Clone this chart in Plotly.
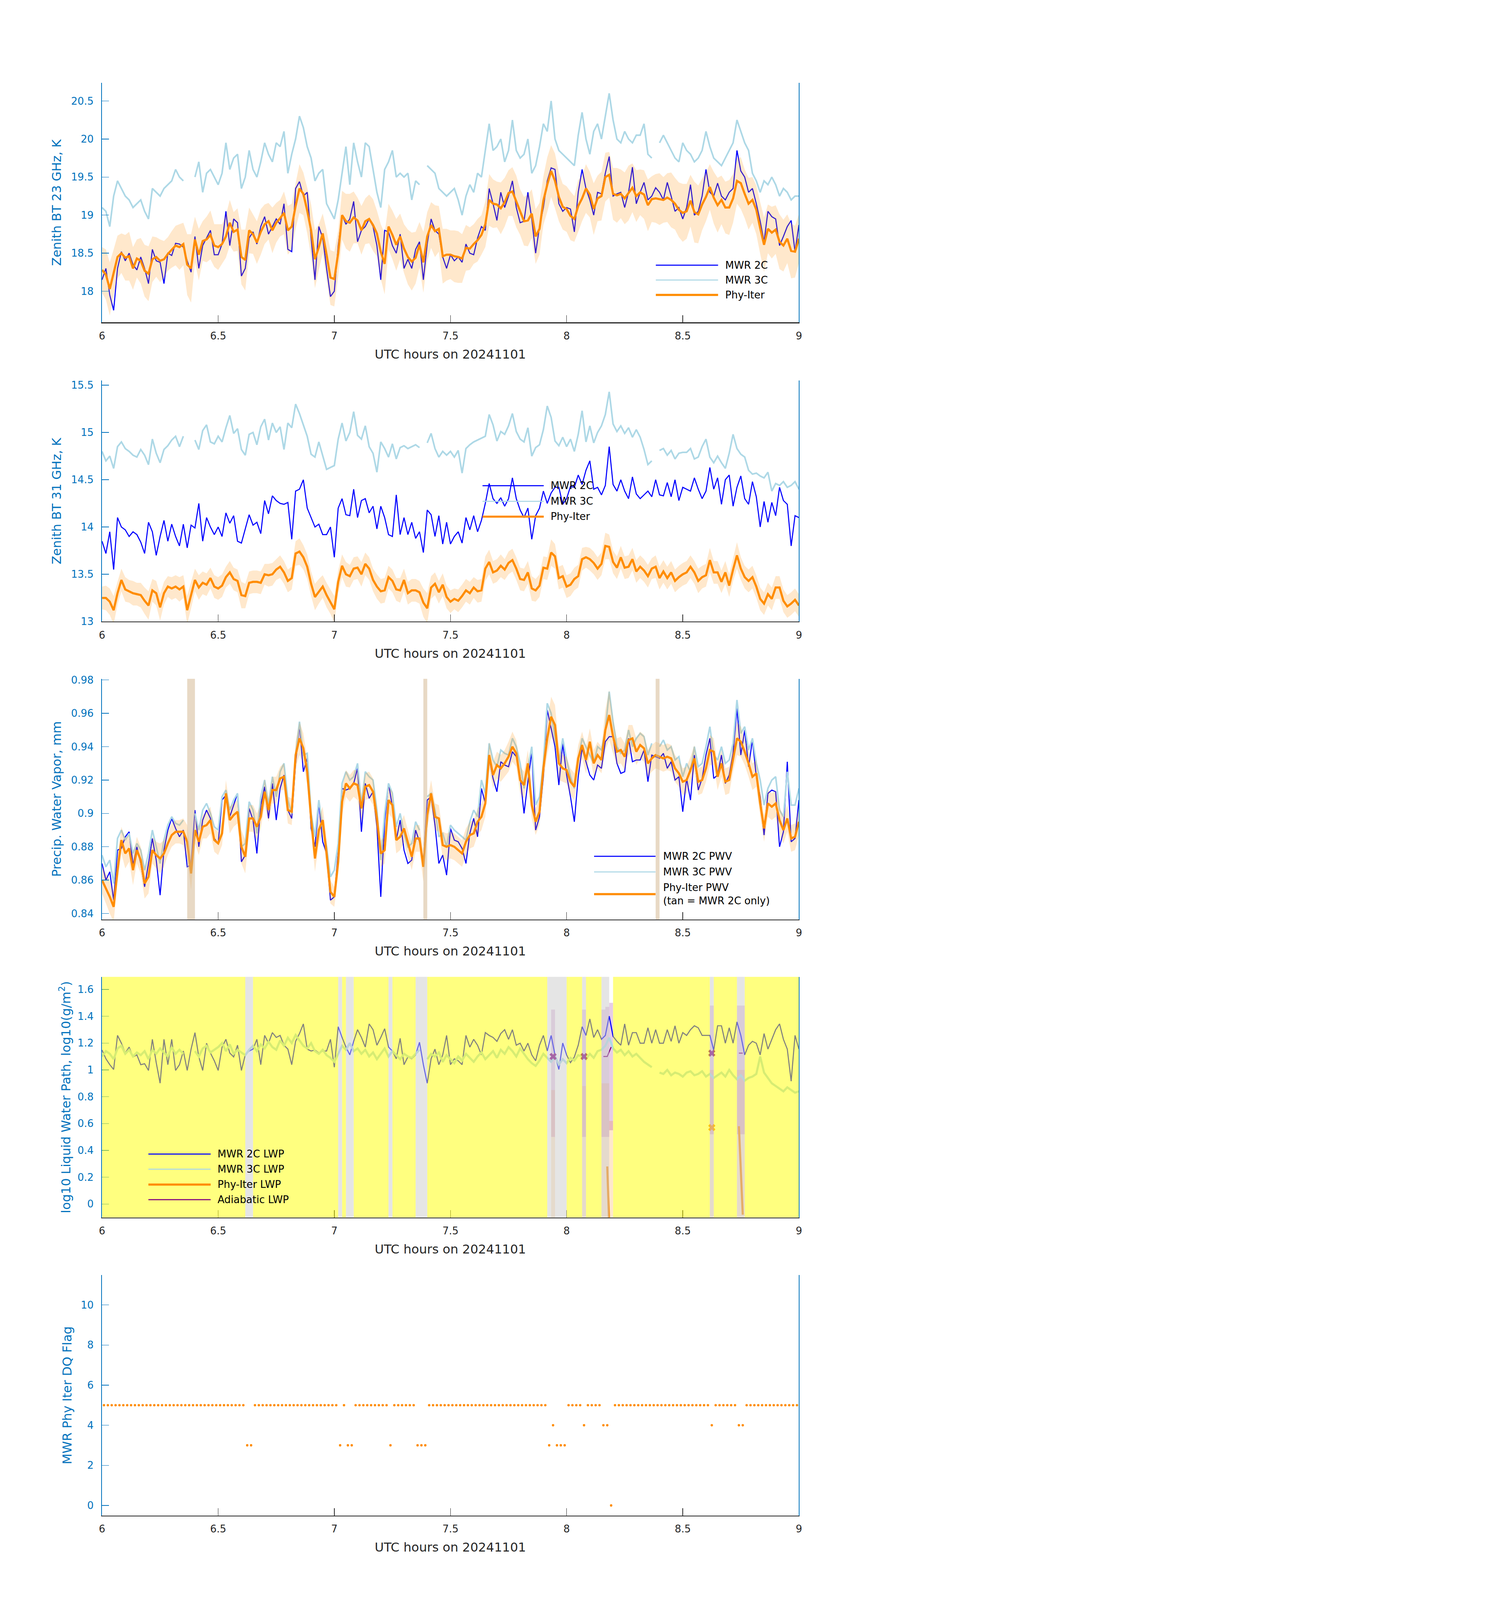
import numpy as np
import plotly.graph_objects as go

# one sample per minute, 06:00 - 09:00 UTC on 2024-11-01
t_start = 6.0
dt = 1 / 60
hours = t_start + np.arange(181) * dt
flag_hours = t_start + (np.arange(180) + 0.5) * dt   # DQ flag stamps sit mid-minute

# ---------------- 23 GHz brightness temperature (K)
tb23_2c = [18.15, 18.30, 17.95, 17.75, 18.30, 18.52, 18.40, 18.50, 18.35, 18.28,
           18.45, 18.30, 18.10, 18.55, 18.40, 18.38, 18.10, 18.50, 18.47, 18.63,
           18.62, 18.58, 18.40, 18.25, 18.72, 18.30, 18.60, 18.70, 18.80, 18.48,
           18.48, 18.62, 19.05, 18.60, 18.95, 18.90, 18.20, 18.30, 18.70, 18.78,
           18.62, 18.85, 18.98, 18.75, 18.85, 18.95, 18.88, 19.15, 18.55, 18.52,
           19.35, 19.44, 19.25, 19.30, 18.70, 18.15, 18.85, 18.70, 18.30, 17.93,
           18.00, 18.60, 19.00, 18.88, 18.95, 19.18, 18.65, 18.80, 18.85, 18.95,
           18.85, 18.60, 18.15, 18.80, 18.78, 18.60, 18.50, 18.75, 18.30, 18.42,
           18.30, 18.55, 18.65, 18.15, 18.62, 18.95, 18.80, 18.75, 18.45, 18.30,
           18.48, 18.40, 18.45, 18.38, 18.62, 18.50, 18.48, 18.70, 18.85, 18.80,
           19.35, 19.15, 18.93, 19.30, 19.10, 19.25, 19.45, 19.10, 18.90, 18.92,
           19.30, 18.95, 18.50, 18.85, 19.10, 19.45, 19.62, 19.60, 19.15, 19.05,
           19.10, 19.08, 18.78, 19.30, 19.60, 19.35, 19.20, 19.00, 19.30, 19.28,
           19.55, 19.77, 19.25, 19.28, 19.30, 19.10, 19.30, 19.63, 19.15, 19.30,
           19.43, 19.20, 19.25, 19.36, 19.30, 19.20, 19.43, 19.25, 19.05, 19.10,
           18.95, 19.10, 19.40, 19.00, 19.05, 19.25, 19.60, 19.30, 19.25, 19.42,
           19.25, 19.20, 19.30, 19.35, 19.85, 19.58, 19.50, 19.30, 19.35, 19.15,
           18.92, 18.65, 19.05, 18.98, 18.95, 18.60, 18.72, 18.85, 18.93, 18.52,
           18.87]
tb23_3c = [19.10, 19.05, 18.85, 19.25, 19.45, 19.35, 19.25, 19.20, 19.10, 19.15,
           19.20, 19.05, 18.95, 19.35, 19.30, 19.25, 19.35, 19.40, 19.45, 19.60,
           19.50, 19.45, None, None, 19.50, 19.70, 19.30, 19.55, 19.60, 19.50,
           19.40, 19.55, 19.95, 19.60, 19.75, 19.80, 19.35, 19.50, 19.85, 19.60,
           19.50, 19.70, 19.95, 19.80, 19.70, 19.95, 19.90, 20.10, 19.55, 19.80,
           20.00, 20.30, 20.15, 19.90, 19.75, 19.45, 19.55, 19.60, 19.15, 19.05,
           18.95, 19.20, 19.55, 19.90, 19.40, 19.95, 19.70, 19.50, 19.95, 19.90,
           19.60, 19.30, 19.10, 19.60, 19.70, 19.85, 19.50, 19.55, 19.50, 19.55,
           19.20, 19.45, 19.40, None, 19.65, 19.60, 19.55, 19.35, 19.30, 19.25,
           19.30, 19.35, 19.20, 19.00, 19.25, 19.40, 19.30, 19.55, 19.50, 19.85,
           20.20, 19.85, 19.90, 20.00, 19.70, 19.85, 20.25, 19.85, 19.75, 19.80,
           20.00, 19.55, 19.65, 19.90, 20.20, 20.10, 20.50, 20.00, 19.85, 19.80,
           19.75, 19.70, 19.65, 20.05, 20.35, 20.00, 19.80, 20.10, 20.20, 20.00,
           20.30, 20.60, 20.25, 20.00, 19.95, 20.10, 20.00, 19.95, 20.05, 20.05,
           20.20, 19.80, 19.75, None, 19.95, 20.05, 19.95, 19.85, 19.75, 19.70,
           19.95, 19.85, 19.80, 19.70, 19.75, 19.85, 20.10, 19.90, 19.75, 19.70,
           19.65, 19.75, 19.85, 19.95, 20.25, 20.10, 19.95, 19.85, 19.55, 19.45,
           19.30, 19.45, 19.40, 19.50, 19.40, 19.25, 19.35, 19.30, 19.20, 19.25,
           19.25]
tb23_phy = [18.28, 18.22, 18.03, 18.25, 18.45, 18.50, 18.44, 18.46, 18.30, 18.43,
            18.40, 18.27, 18.23, 18.42, 18.45, 18.40, 18.42, 18.49, 18.55, 18.60,
            18.58, 18.62, 18.35, 18.30, 18.68, 18.48, 18.66, 18.68, 18.74, 18.60,
            18.58, 18.62, 18.72, 18.90, 18.78, 18.81, 18.45, 18.41, 18.80, 18.75,
            18.64, 18.78, 18.88, 18.92, 18.80, 18.90, 18.96, 19.03, 18.80, 18.85,
            19.12, 19.35, 19.28, 19.06, 18.80, 18.42, 18.58, 18.76, 18.48, 18.18,
            18.16, 18.50, 19.00, 18.92, 18.90, 18.97, 18.93, 18.80, 18.92, 18.95,
            18.87, 18.76, 18.52, 18.36, 18.85, 18.74, 18.61, 18.72, 18.56, 18.45,
            18.39, 18.44, 18.61, 18.38, 18.72, 18.87, 18.79, 18.82, 18.46, 18.48,
            18.48, 18.46, 18.45, 18.43, 18.57, 18.56, 18.62, 18.67, 18.74, 18.88,
            19.20, 19.15, 19.14, 19.09, 19.17, 19.29, 19.31, 19.18, 19.04, 18.92,
            18.93, 19.02, 18.72, 18.82, 19.19, 19.40, 19.58, 19.45, 19.24, 19.11,
            19.08, 18.99, 18.95, 19.12, 19.22, 19.35, 19.27, 19.08, 19.22, 19.25,
            19.50, 19.53, 19.28, 19.26, 19.28, 19.22, 19.29, 19.36, 19.25, 19.30,
            19.27, 19.13, 19.21, 19.22, 19.21, 19.20, 19.23, 19.20, 19.15, 19.07,
            19.03, 19.05, 19.19, 19.04, 19.01, 19.14, 19.24, 19.37, 19.23, 19.13,
            19.20, 19.10, 19.10, 19.22, 19.45, 19.42, 19.28, 19.15, 19.20, 19.07,
            18.83, 18.61, 18.82, 18.77, 18.81, 18.65, 18.60, 18.69, 18.53, 18.52,
            18.69]
tb23_sig = [0.30, 0.33, 0.35, 0.30, 0.28, 0.26, 0.30, 0.32, 0.28, 0.25,
            0.30, 0.34, 0.36, 0.30, 0.26, 0.28, 0.24, 0.22, 0.24, 0.26,
            0.30, 0.28, 0.40, 0.45, 0.30, 0.34, 0.26, 0.30, 0.32, 0.28,
            0.30, 0.26, 0.28, 0.30, 0.26, 0.28, 0.36, 0.40, 0.30, 0.26,
            0.28, 0.30, 0.26, 0.24, 0.30, 0.26, 0.24, 0.28, 0.32, 0.30,
            0.30, 0.32, 0.28, 0.30, 0.34, 0.38, 0.30, 0.26, 0.32, 0.36,
            0.36, 0.30, 0.32, 0.36, 0.38, 0.34, 0.30, 0.32, 0.30, 0.32,
            0.34, 0.30, 0.36, 0.40, 0.30, 0.32, 0.34, 0.30, 0.32, 0.36,
            0.38, 0.34, 0.30, 0.40, 0.32, 0.30, 0.34, 0.30, 0.36, 0.34,
            0.32, 0.34, 0.34, 0.32, 0.30, 0.28, 0.26, 0.28, 0.26, 0.30,
            0.34, 0.32, 0.30, 0.34, 0.32, 0.30, 0.32, 0.34, 0.30, 0.32,
            0.34, 0.32, 0.36, 0.34, 0.32, 0.36, 0.34, 0.36, 0.32, 0.30,
            0.30, 0.32, 0.30, 0.34, 0.30, 0.32, 0.30, 0.34, 0.30, 0.32,
            0.32, 0.30, 0.34, 0.36, 0.32, 0.34, 0.36, 0.32, 0.34, 0.30,
            0.32, 0.34, 0.30, 0.32, 0.34, 0.30, 0.32, 0.36, 0.34, 0.36,
            0.38, 0.36, 0.34, 0.40, 0.38, 0.34, 0.32, 0.30, 0.34, 0.36,
            0.32, 0.34, 0.36, 0.32, 0.30, 0.34, 0.32, 0.34, 0.30, 0.32,
            0.34, 0.36, 0.32, 0.34, 0.32, 0.36, 0.34, 0.32, 0.36, 0.34,
            0.32]

# ---------------- 31 GHz brightness temperature (K)
tb31_2c = [13.85, 13.72, 13.95, 13.55, 14.10, 14.00, 13.97, 13.90, 13.95, 13.92,
           13.84, 13.72, 14.05, 13.95, 13.70, 13.90, 14.07, 13.85, 14.03, 13.90,
           13.80, 14.03, 13.78, 14.02, 13.99, 14.25, 13.85, 14.10, 14.00, 13.92,
           14.00, 13.90, 14.15, 14.04, 14.12, 13.85, 13.83, 13.98, 14.13, 14.02,
           14.05, 13.93, 14.28, 14.14, 14.33, 14.28, 14.25, 14.24, 14.26, 13.87,
           14.38, 14.40, 14.50, 14.20, 14.10, 14.00, 14.03, 13.92, 13.92, 14.00,
           13.68, 14.20, 14.30, 14.13, 14.12, 14.40, 14.10, 14.28, 14.30, 14.15,
           14.22, 13.98, 14.22, 14.10, 13.92, 13.90, 14.34, 13.92, 14.10, 13.92,
           14.05, 13.88, 13.95, 13.73, 14.18, 14.13, 13.90, 14.12, 13.82, 14.05,
           13.82, 13.90, 13.95, 13.83, 14.10, 13.97, 14.12, 13.95, 14.07, 14.25,
           14.46, 14.30, 14.25, 14.31, 14.22, 14.30, 14.52, 14.30, 14.18, 14.10,
           14.20, 13.87, 14.12, 14.20, 14.38, 14.25, 14.36, 14.42, 14.42, 14.24,
           14.30, 14.43, 14.42, 14.55, 14.45, 14.60, 14.70, 14.40, 14.42, 14.34,
           14.44, 14.85, 14.45, 14.38, 14.50, 14.38, 14.30, 14.53, 14.35, 14.30,
           14.34, 14.38, 14.32, 14.50, 14.34, 14.33, 14.47, 14.32, 14.50, 14.28,
           14.42, 14.40, 14.38, 14.52, 14.40, 14.30, 14.38, 14.63, 14.40, 14.52,
           14.24, 14.50, 14.55, 14.22, 14.42, 14.54, 14.30, 14.24, 14.48, 14.32,
           14.00, 14.27, 14.05, 14.26, 14.12, 14.42, 14.28, 14.24, 13.80, 14.12,
           14.10]
tb31_3c = [14.80, 14.70, 14.75, 14.62, 14.85, 14.90, 14.83, 14.80, 14.76, 14.74,
           14.82, 14.76, 14.66, 14.93, 14.78, 14.68, 14.82, 14.86, 14.92, 14.96,
           14.85, 14.96, None, None, 14.92, 14.82, 15.02, 15.08, 14.90, 14.88,
           14.96, 14.90, 15.05, 15.18, 14.99, 15.04, 14.82, 14.76, 14.98, 15.00,
           14.87, 15.06, 15.14, 14.92, 15.10, 15.00, 15.06, 14.82, 15.10, 15.05,
           15.30, 15.20, 15.08, 14.96, 14.77, 14.74, 14.90, 14.75, 14.61, 14.63,
           14.65, 14.93, 15.10, 14.91, 15.00, 15.22, 14.97, 14.93, 15.07, 14.85,
           14.78, 14.58, 14.90, 14.83, 14.74, 14.88, 14.72, 14.84, 14.86, 14.83,
           14.85, 14.87, 14.84, None, 14.89, 14.99, 14.83, 14.74, 14.80, 14.76,
           14.80, 14.74, 14.81, 14.57, 14.83, 14.87, 14.90, 14.92, 14.94, 14.96,
           15.19, 15.08, 14.91, 15.01, 14.98, 15.07, 15.20, 15.01, 14.93, 14.90,
           15.05, 14.75, 14.84, 14.87, 15.03, 15.28, 15.16, 14.91, 14.86, 14.95,
           14.85, 14.93, 14.80, 14.98, 15.23, 14.90, 15.07, 14.89, 15.00, 15.07,
           15.19, 15.43, 15.09, 15.01, 15.07, 14.99, 15.05, 14.95, 15.03, 14.95,
           14.82, 14.66, 14.70, None, 14.81, 14.83, 14.76, 14.81, 14.72, 14.78,
           14.79, 14.79, 14.83, 14.72, 14.74, 14.85, 14.93, 14.74, 14.68, 14.75,
           14.68, 14.62, 14.78, 14.98, 14.83, 14.77, 14.74, 14.60, 14.56, 14.57,
           14.54, 14.52, 14.58, 14.38, 14.46, 14.44, 14.48, 14.42, 14.44, 14.48,
           14.40]
tb31_phy = [13.25, 13.25, 13.21, 13.12, 13.30, 13.44, 13.34, 13.32, 13.30, 13.29,
            13.28, 13.22, 13.17, 13.33, 13.30, 13.15, 13.30, 13.37, 13.35, 13.37,
            13.34, 13.37, 13.12, 13.28, 13.44, 13.36, 13.41, 13.39, 13.46, 13.37,
            13.35, 13.38, 13.47, 13.52, 13.45, 13.43, 13.28, 13.27, 13.41, 13.42,
            13.42, 13.41, 13.50, 13.49, 13.50, 13.55, 13.58, 13.52, 13.43, 13.46,
            13.72, 13.74, 13.68, 13.58, 13.40, 13.26, 13.32, 13.37, 13.28, 13.21,
            13.13, 13.42, 13.59, 13.50, 13.48, 13.56, 13.57, 13.50, 13.61, 13.56,
            13.44, 13.37, 13.32, 13.33, 13.47, 13.43, 13.34, 13.33, 13.44, 13.30,
            13.33, 13.33, 13.31, 13.20, 13.14, 13.36, 13.40, 13.31, 13.39, 13.26,
            13.21, 13.24, 13.22, 13.27, 13.33, 13.30, 13.36, 13.32, 13.33, 13.56,
            13.63, 13.52, 13.54, 13.59, 13.55, 13.62, 13.65, 13.56, 13.45, 13.44,
            13.52, 13.35, 13.33, 13.38, 13.57, 13.56, 13.73, 13.69, 13.46, 13.48,
            13.37, 13.39, 13.45, 13.48, 13.66, 13.68, 13.66, 13.62, 13.56, 13.61,
            13.80, 13.79, 13.63, 13.57, 13.68, 13.57, 13.58, 13.66, 13.53, 13.58,
            13.54, 13.48, 13.56, 13.58, 13.46, 13.53, 13.46, 13.52, 13.43, 13.47,
            13.50, 13.52, 13.58, 13.52, 13.43, 13.47, 13.49, 13.65, 13.52, 13.52,
            13.42, 13.52, 13.38, 13.55, 13.70, 13.56, 13.47, 13.43, 13.47, 13.37,
            13.24, 13.19, 13.29, 13.24, 13.36, 13.36, 13.22, 13.16, 13.19, 13.23,
            13.17]
tb31_sig = [0.12, 0.13, 0.14, 0.15, 0.12, 0.12, 0.13, 0.12, 0.13, 0.12,
            0.13, 0.14, 0.15, 0.12, 0.13, 0.14, 0.12, 0.11, 0.12, 0.12,
            0.13, 0.12, 0.15, 0.14, 0.12, 0.13, 0.12, 0.12, 0.11, 0.12,
            0.12, 0.12, 0.11, 0.12, 0.12, 0.12, 0.14, 0.13, 0.12, 0.12,
            0.12, 0.12, 0.11, 0.12, 0.12, 0.11, 0.12, 0.12, 0.12, 0.12,
            0.13, 0.14, 0.13, 0.13, 0.13, 0.14, 0.13, 0.12, 0.13, 0.13,
            0.14, 0.12, 0.12, 0.13, 0.12, 0.12, 0.12, 0.13, 0.12, 0.12,
            0.12, 0.13, 0.13, 0.13, 0.12, 0.12, 0.12, 0.13, 0.12, 0.12,
            0.12, 0.12, 0.12, 0.15, 0.16, 0.12, 0.12, 0.12, 0.12, 0.12,
            0.12, 0.11, 0.12, 0.12, 0.12, 0.12, 0.11, 0.12, 0.12, 0.13,
            0.13, 0.12, 0.12, 0.12, 0.11, 0.12, 0.12, 0.12, 0.12, 0.12,
            0.12, 0.13, 0.12, 0.12, 0.12, 0.12, 0.14, 0.13, 0.12, 0.12,
            0.12, 0.12, 0.12, 0.12, 0.12, 0.11, 0.12, 0.12, 0.12, 0.12,
            0.14, 0.13, 0.12, 0.12, 0.12, 0.12, 0.12, 0.12, 0.12, 0.12,
            0.12, 0.12, 0.11, 0.12, 0.12, 0.12, 0.12, 0.12, 0.12, 0.12,
            0.12, 0.12, 0.12, 0.12, 0.13, 0.12, 0.12, 0.13, 0.12, 0.12,
            0.12, 0.12, 0.12, 0.12, 0.14, 0.12, 0.12, 0.12, 0.12, 0.12,
            0.12, 0.12, 0.12, 0.12, 0.12, 0.12, 0.12, 0.12, 0.12, 0.12,
            0.12]

# ---------------- precipitable water vapour (mm)
pwv_2c = [0.870, 0.860, 0.865, 0.848, 0.878, 0.879, 0.886, 0.889, 0.869, 0.880,
          0.870, 0.856, 0.870, 0.885, 0.872, 0.851, 0.878, 0.890, 0.897, 0.891,
          0.886, 0.890, 0.868, 0.869, 0.902, 0.880, 0.896, 0.902, 0.897, 0.885,
          0.882, 0.908, 0.911, 0.898, 0.905, 0.912, 0.871, 0.875, 0.903, 0.896,
          0.876, 0.905, 0.916, 0.897, 0.918, 0.896, 0.915, 0.923, 0.902, 0.897,
          0.930, 0.953, 0.925, 0.933, 0.891, 0.880, 0.906, 0.883, 0.876, 0.848,
          0.850, 0.877, 0.915, 0.914, 0.915, 0.918, 0.927, 0.889, 0.918, 0.909,
          0.913, 0.892, 0.850, 0.895, 0.918, 0.904, 0.884, 0.896, 0.878, 0.870,
          0.872, 0.890, 0.883, 0.871, 0.908, 0.910, 0.893, 0.870, 0.875, 0.863,
          0.891, 0.884, 0.883, 0.879, 0.870, 0.888, 0.897, 0.886, 0.915, 0.906,
          0.933, 0.921, 0.913, 0.931, 0.929, 0.928, 0.937, 0.934, 0.922, 0.900,
          0.919, 0.937, 0.890, 0.898, 0.922, 0.962, 0.951, 0.940, 0.917, 0.942,
          0.923, 0.910, 0.895, 0.922, 0.939, 0.931, 0.923, 0.920, 0.929, 0.927,
          0.943, 0.946, 0.946, 0.930, 0.924, 0.925, 0.945, 0.931, 0.932, 0.932,
          0.938, 0.919, 0.935, 0.934, 0.933, 0.936, 0.927, 0.931, 0.920, 0.922,
          0.901, 0.921, 0.908, 0.935, 0.914, 0.921, 0.935, 0.945, 0.921, 0.923,
          0.935, 0.918, 0.923, 0.936, 0.963, 0.935, 0.950, 0.928, 0.944, 0.922,
          0.910, 0.887, 0.912, 0.914, 0.913, 0.880, 0.889, 0.931, 0.883, 0.885,
          0.908]
pwv_3c = [0.875, 0.868, 0.872, 0.858, 0.885, 0.890, 0.884, 0.888, 0.876, 0.882,
          0.878, 0.866, 0.876, 0.890, 0.880, 0.870, 0.884, 0.893, 0.898, 0.894,
          0.893, 0.896, None, None, 0.900, 0.890, 0.902, 0.906, 0.900, 0.892,
          0.890, 0.910, 0.914, 0.902, 0.908, 0.912, 0.880, 0.882, 0.907, 0.902,
          0.888, 0.910, 0.920, 0.905, 0.922, 0.910, 0.925, 0.930, 0.908, 0.900,
          0.935, 0.955, 0.935, 0.936, 0.900, 0.886, 0.908, 0.892, 0.880, 0.862,
          0.866, 0.882, 0.918, 0.925, 0.920, 0.922, 0.930, 0.905, 0.925, 0.922,
          0.920, 0.902, 0.872, 0.900, 0.918, 0.912, 0.892, 0.900, 0.888, 0.880,
          0.882, 0.895, 0.890, None, 0.910, 0.912, 0.902, 0.886, 0.888, 0.880,
          0.893, 0.890, 0.888, 0.886, 0.884, 0.895, 0.902, 0.898, 0.920, 0.912,
          0.942, 0.932, 0.928, 0.938, 0.936, 0.935, 0.945, 0.940, 0.930, 0.915,
          0.928, 0.940, 0.905, 0.910, 0.930, 0.966, 0.960, 0.945, 0.930, 0.945,
          0.932, 0.922, 0.915, 0.932, 0.945, 0.940, 0.935, 0.930, 0.940, 0.938,
          0.950, 0.973, 0.955, 0.940, 0.936, 0.938, 0.950, 0.940, 0.945, 0.948,
          0.946, 0.935, 0.942, None, 0.940, 0.944, 0.938, 0.940, 0.932, 0.934,
          0.922, 0.930, 0.925, 0.940, 0.928, 0.930, 0.940, 0.952, 0.935, 0.932,
          0.940, 0.930, 0.932, 0.942, 0.968, 0.948, 0.952, 0.938, 0.945, 0.930,
          0.920, 0.905, 0.915, 0.920, 0.922, 0.902, 0.898, 0.925, 0.905, 0.905,
          0.915]
pwv_phy = [0.860, 0.855, 0.850, 0.844, 0.866, 0.884, 0.876, 0.879, 0.866, 0.878,
           0.872, 0.858, 0.862, 0.878, 0.875, 0.873, 0.876, 0.882, 0.887, 0.889,
           0.889, 0.889, 0.883, 0.864, 0.890, 0.883, 0.892, 0.893, 0.896, 0.884,
           0.882, 0.888, 0.912, 0.896, 0.899, 0.901, 0.880, 0.874, 0.897, 0.897,
           0.892, 0.898, 0.913, 0.902, 0.914, 0.914, 0.921, 0.922, 0.902, 0.901,
           0.935, 0.945, 0.939, 0.925, 0.897, 0.873, 0.890, 0.896, 0.876, 0.853,
           0.850, 0.871, 0.907, 0.918, 0.915, 0.918, 0.917, 0.903, 0.916, 0.917,
           0.913, 0.897, 0.876, 0.878, 0.908, 0.905, 0.884, 0.886, 0.891, 0.882,
           0.874, 0.885, 0.885, 0.868, 0.899, 0.912, 0.898, 0.897, 0.881, 0.880,
           0.881, 0.880, 0.878, 0.876, 0.883, 0.887, 0.888, 0.895, 0.898, 0.906,
           0.935, 0.923, 0.929, 0.927, 0.930, 0.934, 0.940, 0.936, 0.920, 0.917,
           0.930, 0.905, 0.895, 0.901, 0.927, 0.945, 0.958, 0.953, 0.930, 0.927,
           0.926, 0.919, 0.916, 0.933, 0.941, 0.932, 0.943, 0.930, 0.935, 0.932,
           0.950, 0.959, 0.946, 0.937, 0.938, 0.934, 0.944, 0.945, 0.937, 0.941,
           0.939, 0.930, 0.933, 0.935, 0.934, 0.933, 0.934, 0.933, 0.927, 0.924,
           0.919, 0.920, 0.926, 0.933, 0.919, 0.920, 0.927, 0.938, 0.937, 0.922,
           0.930, 0.919, 0.920, 0.933, 0.945, 0.943, 0.937, 0.930, 0.922, 0.924,
           0.906, 0.891, 0.906, 0.904, 0.906, 0.896, 0.890, 0.897, 0.885, 0.886,
           0.895]
pwv_sig = [0.008, 0.009, 0.010, 0.009, 0.008, 0.008, 0.009, 0.008, 0.009, 0.008,
           0.008, 0.009, 0.010, 0.008, 0.008, 0.009, 0.008, 0.007, 0.007, 0.007,
           0.007, 0.008, 0.010, 0.010, 0.008, 0.008, 0.007, 0.008, 0.008, 0.007,
           0.007, 0.007, 0.008, 0.008, 0.007, 0.007, 0.010, 0.010, 0.008, 0.008,
           0.008, 0.007, 0.008, 0.007, 0.008, 0.008, 0.007, 0.008, 0.008, 0.008,
           0.008, 0.010, 0.009, 0.008, 0.008, 0.008, 0.008, 0.008, 0.009, 0.007,
           0.006, 0.008, 0.008, 0.008, 0.008, 0.008, 0.009, 0.008, 0.008, 0.008,
           0.008, 0.008, 0.008, 0.008, 0.008, 0.008, 0.008, 0.008, 0.008, 0.008,
           0.008, 0.008, 0.008, 0.009, 0.008, 0.008, 0.008, 0.008, 0.008, 0.008,
           0.008, 0.008, 0.008, 0.008, 0.008, 0.008, 0.008, 0.008, 0.008, 0.008,
           0.008, 0.008, 0.008, 0.008, 0.008, 0.009, 0.009, 0.008, 0.008, 0.008,
           0.008, 0.008, 0.008, 0.008, 0.008, 0.010, 0.012, 0.012, 0.010, 0.008,
           0.008, 0.008, 0.008, 0.008, 0.008, 0.008, 0.008, 0.008, 0.008, 0.008,
           0.012, 0.015, 0.010, 0.008, 0.008, 0.008, 0.009, 0.008, 0.008, 0.008,
           0.008, 0.008, 0.008, 0.008, 0.008, 0.008, 0.008, 0.008, 0.008, 0.008,
           0.008, 0.008, 0.008, 0.008, 0.008, 0.008, 0.008, 0.009, 0.008, 0.008,
           0.008, 0.008, 0.008, 0.008, 0.010, 0.009, 0.008, 0.008, 0.008, 0.008,
           0.008, 0.008, 0.008, 0.008, 0.008, 0.008, 0.008, 0.008, 0.008, 0.008,
           0.008]

# ---------------- log10 liquid water path, log10(g/m2)
lwp_2c = [1.148, 1.083, 1.039, 1.003, 1.257, 1.199, 1.126, 1.170, 1.097, 1.112,
          1.039, 1.046, 0.996, 1.228, 1.054, 0.901, 1.228, 1.039, 1.228, 0.996,
          1.039, 1.141, 0.996, 1.155, 1.278, 1.097, 0.996, 1.199, 1.126, 1.068,
          0.996, 1.170, 1.228, 1.126, 1.097, 1.184, 0.996, 1.112, 1.141, 1.155,
          1.228, 1.039, 1.257, 1.200, 1.278, 1.242, 1.257, 1.184, 1.155, 1.039,
          1.213, 1.271, 1.343, 1.155, 1.141, 1.148, 1.126, 1.141, 1.141, 1.228,
          1.020, 1.322, 1.242, 1.170, 1.112, 1.213, 1.300, 1.242, 1.170, 1.343,
          1.300, 1.184, 1.242, 1.307, 1.170, 1.141, 1.083, 1.235, 1.039, 1.097,
          1.083, 1.112, 1.206, 1.039, 0.901, 1.083, 1.155, 1.039, 1.112, 1.257,
          1.039, 1.083, 1.068, 1.039, 1.257, 1.170, 1.228, 1.184, 1.112, 1.278,
          1.257, 1.242, 1.213, 1.271, 1.300, 1.228, 1.300, 1.184, 1.199, 1.141,
          1.199, 1.112, 1.068, 1.184, 1.257, 1.141, 1.257, 1.112, 1.003, 1.200,
          1.112, 1.054, 1.097, 1.184, 1.322, 1.257, 1.380, 1.242, 1.300, 1.228,
          1.257, 1.401, 1.250, 1.213, 1.184, 1.343, 1.184, 1.278, 1.278, 1.199,
          1.199, 1.314, 1.199, 1.300, 1.199, 1.199, 1.300, 1.213, 1.329, 1.199,
          1.278, 1.257, 1.300, 1.329, 1.314, 1.257, 1.257, 1.257, 1.148, 1.329,
          1.329, 1.199, 1.314, 1.199, 1.358, 1.257, 1.112, 1.184, 1.213, 1.199,
          1.112, 1.271, 1.155, 1.228, 1.300, 1.343, 1.228, 1.155, 0.916, 1.257,
          1.155]
lwp_3c = [1.10, 1.14, 1.12, 1.08, 1.16, 1.18, 1.12, 1.15, 1.10, 1.13,
          1.11, 1.14, 1.08, 1.15, 1.12, 1.16, 1.13, 1.10, 1.17, 1.12,
          1.15, 1.12, None, None, 1.14, 1.10, 1.16, 1.18, 1.13, 1.15,
          1.17, 1.20, 1.14, 1.19, 1.12, 1.15, 1.13, 1.11, 1.15, 1.18,
          1.14, 1.19, 1.16, 1.21, 1.17, 1.15, 1.22, 1.18, 1.24, 1.20,
          1.26, 1.22, 1.18, 1.16, 1.20, 1.14, 1.12, 1.15, 1.11, 1.09,
          1.06, 1.12, 1.18, 1.15, 1.20, 1.14, 1.16, 1.12, 1.15, 1.10,
          1.13, 1.08, 1.12, 1.16, 1.10, 1.14, 1.11, 1.08, 1.12, 1.10,
          1.09, 1.12, 1.15, None, 1.08, 1.12, 1.10, 1.13, 1.06, 1.11,
          1.08, 1.05, 1.10, 1.07, 1.12, 1.09, 1.06, 1.10, 1.13, 1.08,
          1.11, 1.14, 1.09, 1.15, 1.12, 1.17, 1.14, 1.10, 1.16, 1.12,
          1.08, 1.05, 1.03, 1.07, 1.12, 1.09, 1.06, 1.10, 1.04, 1.08,
          1.05, 1.09, 1.07, 1.11, 1.10, 1.08, 1.12, 1.09, 1.14, 1.15,
          1.18, 1.24, 1.16, 1.13, 1.15, 1.11, 1.14, 1.10, 1.12, 1.09,
          1.06, 1.04, 1.02, None, 0.98, 0.97, 1.00, 0.96, 0.98, 0.97,
          0.95, 0.98, 0.99, 0.96, 0.97, 0.99, 0.95, 0.97, 0.94, 0.96,
          0.98, 0.95, 1.00, 0.96, 0.93, 0.96, 0.92, 0.94, 0.95, 0.97,
          1.10, 0.98, 0.94, 0.90, 0.88, 0.86, 0.84, 0.87, 0.85, 0.83,
          0.84]

# Phy-Iter and adiabatic LWP exist only at the flagged minutes
lwp_extra_hours = [7.9417, 8.0750, 8.1583, 8.1750, 8.1917, 8.6250, 8.7417, 8.7583]
lwp_phy = [None, None, None, 0.28, -0.60, 0.57, 0.58, -0.08]
lwp_phy_lo = [-0.30, -0.30, -0.30, -0.30, -0.30, -0.30, -0.30, -0.30]
lwp_phy_hi = [0.85, 0.88, 0.90, 0.90, 0.62, 1.00, 1.00, 1.00]
lwp_adi = [1.10, 1.10, 1.10, 1.10, 1.17, 1.125, 1.125, 1.125]
lwp_adi_lo = [0.50, 0.50, 0.50, 0.50, 0.55, 0.52, 0.52, 0.52]
lwp_adi_hi = [1.45, 1.45, 1.45, 1.47, 1.50, 1.48, 1.48, 1.48]

# ---------------- MWR Phy-Iter DQ flag (one per minute, mid-minute stamps)
dq_flag = [5, 5, 5, 5, 5, 5, 5, 5, 5, 5, 5, 5, 5, 5, 5, 5, 5, 5, 5, 5,
           5, 5, 5, 5, 5, 5, 5, 5, 5, 5, 5, 5, 5, 5, 5, 5, 5, 3, 3, 5,
           5, 5, 5, 5, 5, 5, 5, 5, 5, 5, 5, 5, 5, 5, 5, 5, 5, 5, 5, 5,
           5, 3, 5, 3, 3, 5, 5, 5, 5, 5, 5, 5, 5, 5, 3, 5, 5, 5, 5, 5,
           5, 3, 3, 3, 5, 5, 5, 5, 5, 5, 5, 5, 5, 5, 5, 5, 5, 5, 5, 5,
           5, 5, 5, 5, 5, 5, 5, 5, 5, 5, 5, 5, 5, 5, 5, 3, 4, 3, 3, 3,
           5, 5, 5, 5, 4, 5, 5, 5, 5, 4, 4, 0, 5, 5, 5, 5, 5, 5, 5, 5,
           5, 5, 5, 5, 5, 5, 5, 5, 5, 5, 5, 5, 5, 5, 5, 5, 5, 4, 5, 5,
           5, 5, 5, 5, 4, 4, 5, 5, 5, 5, 5, 5, 5, 5, 5, 5, 5, 5, 5, 5]

# ---------------- styling
W, H = 3825, 6000
FONT = "DejaVu Sans"
AXBLUE = "#0072BD"
DARK = "#262626"
C2 = "#0000FF"
C3 = "#ADD8E6"
ORANGE = "#FF8C00"
BAND = "rgba(255,140,0,0.2)"
PURPLE = "#800080"

x_left, x_right = 373, 3003
tops = [295, 1419, 2545, 3670, 4795]
bottoms = [1200, 2329, 3453, 4578, 5703]
yranges = [[17.59, 20.74], [13.0, 15.55], [0.8365, 0.9807], [-0.1, 1.694], [-0.5, 11.5]]
yticks = [(18, 0.5), (13.5, 0.5), (0.84, 0.02), (0, 0.2), (0, 2)]
ylabels = ["Zenith BT 23 GHz, K", "Zenith BT 31 GHz, K", "Precip. Water Vapor, mm",
           "log10 Liquid Water Path, log10(g/m<sup>2</sup>)", "MWR Phy Iter DQ Flag"]
ylabel_x = [202, 202, 202, 233, 242]

fig = go.Figure()


def ax(n):
    return dict(xaxis="x" if n == 1 else f"x{n}", yaxis="y" if n == 1 else f"y{n}")


def line(n, y, color, width, x=hours):
    fig.add_trace(go.Scatter(x=x, y=y, mode="lines", line=dict(color=color, width=width),
                             showlegend=False, hoverinfo="skip", **ax(n)))


def band(n, center, sig):
    c = np.array(center, float)
    s = np.array(sig, float)
    fig.add_trace(go.Scatter(x=hours, y=c + s, mode="lines", line=dict(width=0),
                             showlegend=False, hoverinfo="skip", **ax(n)))
    fig.add_trace(go.Scatter(x=hours, y=c - s, mode="lines", line=dict(width=0),
                             fill="tonexty", fillcolor=BAND,
                             showlegend=False, hoverinfo="skip", **ax(n)))


# panels 1-3: MWR 2C, MWR 3C, Phy-Iter with its uncertainty band
for n, (s2, s3, sp, sg) in enumerate([(tb23_2c, tb23_3c, tb23_phy, tb23_sig),
                                      (tb31_2c, tb31_3c, tb31_phy, tb31_sig),
                                      (pwv_2c, pwv_3c, pwv_phy, pwv_sig)], start=1):
    line(n, s2, C2, 4)
    line(n, s3, C3, 6)
    band(n, sp, sg)
    line(n, sp, ORANGE, 8)

# panel 4: LWP
line(4, lwp_2c, C2, 4)
line(4, lwp_3c, C3, 8)
lo = np.array(lwp_phy_lo)
fig.add_trace(go.Bar(x=lwp_extra_hours, base=lo, y=np.array(lwp_phy_hi) - lo, width=dt,
                     marker=dict(color=BAND, line=dict(width=0)),
                     showlegend=False, hoverinfo="skip", **ax(4)))
lo = np.array(lwp_adi_lo)
fig.add_trace(go.Bar(x=lwp_extra_hours, base=lo, y=np.array(lwp_adi_hi) - lo, width=dt,
                     marker=dict(color="rgba(128,0,128,0.2)", line=dict(width=0)),
                     showlegend=False, hoverinfo="skip", **ax(4)))


def split_runs(xs, ys):
    # break the line where minutes are not consecutive; mark lone points
    px, py, lone_x, lone_y = [], [], [], []
    n = len(xs)
    for i in range(n):
        if ys[i] is None:
            continue
        prev_ok = i > 0 and ys[i - 1] is not None and xs[i] - xs[i - 1] < 1.5 * dt
        next_ok = i < n - 1 and ys[i + 1] is not None and xs[i + 1] - xs[i] < 1.5 * dt
        if not prev_ok:
            px.append(None)
            py.append(None)
        px.append(xs[i])
        py.append(ys[i])
        if not prev_ok and not next_ok:
            lone_x.append(xs[i])
            lone_y.append(ys[i])
    return px, py, lone_x, lone_y


for vals, color, w in [(lwp_phy, ORANGE, 8), (lwp_adi, PURPLE, 4)]:
    px, py, lx, ly = split_runs(lwp_extra_hours, vals)
    line(4, py, color, w, x=px)
    fig.add_trace(go.Scatter(x=lx, y=ly, mode="markers",
                             marker=dict(symbol="x", size=24, color=color, line=dict(width=0)),
                             showlegend=False, hoverinfo="skip", **ax(4)))

# panel 5: DQ flag
fig.add_trace(go.Scatter(x=flag_hours, y=dq_flag, mode="markers",
                         marker=dict(color=ORANGE, size=9),
                         showlegend=False, hoverinfo="skip", **ax(5)))


# ---------------- overlays
def runs(mask):
    out, start = [], None
    for k, m in enumerate(mask):
        if m and start is None:
            start = k
        if not m and start is not None:
            out.append((start, k - 1))
            start = None
    if start is not None:
        out.append((start, len(mask) - 1))
    return out


shapes = []
# tan: minutes where Phy-Iter PWV used MWR 2C only (no 3C sample)
for a, b in runs([v is None for v in pwv_3c]):
    shapes.append(dict(type="rect", xref="x3", yref="y3 domain", x0=hours[a], x1=hours[b] + dt,
                       y0=0, y1=1, fillcolor="rgba(210,180,140,0.5)", line=dict(width=0),
                       layer="above"))
# LWP panel: yellow for good retrievals, grey for flagged ones
for a, b in runs([f == 5 for f in dq_flag]):
    shapes.append(dict(type="rect", xref="x4", yref="y4 domain",
                       x0=flag_hours[a] - dt / 2, x1=flag_hours[b] + dt / 2, y0=0, y1=1,
                       fillcolor="rgba(255,255,0,0.5)", line=dict(width=0), layer="above"))
for a, b in runs([f in (3, 4) for f in dq_flag]):
    shapes.append(dict(type="rect", xref="x4", yref="y4 domain",
                       x0=flag_hours[a] - dt / 2, x1=flag_hours[b] + dt / 2, y0=0, y1=1,
                       fillcolor="rgba(204,204,204,0.5)", line=dict(width=0), layer="above"))

annotations = []


def legend(entries, x0, x1, tx):
    for text, color, width, y in entries:
        shapes.append(dict(type="line", xref="paper", yref="paper", x0=x0 / W, x1=x1 / W,
                           y0=1 - y / H, y1=1 - y / H, line=dict(color=color, width=width),
                           layer="above"))
        annotations.append(dict(xref="paper", yref="paper", x=tx / W, y=1 - y / H, text=text,
                                showarrow=False, xanchor="left", yanchor="middle", align="left",
                                font=dict(family=FONT, size=38, color="black")))


legend([("MWR 2C", C2, 4, 984), ("MWR 3C", C3, 4, 1040), ("Phy-Iter", ORANGE, 8, 1096)],
       2463, 2698, 2723)
legend([("MWR 2C", C2, 4, 1816), ("MWR 3C", C3, 4, 1875), ("Phy-Iter", ORANGE, 8, 1933)],
       1809, 2040, 2064)
legend([("MWR 2C PWV", C2, 4, 3215), ("MWR 3C PWV", C3, 4, 3274),
        ("Phy-Iter PWV<br>(tan = MWR 2C only)", ORANGE, 8, 3358)], 2230, 2462, 2489)
legend([("MWR 2C LWP", C2, 4, 4339), ("MWR 3C LWP", C3, 4, 4396),
        ("Phy-Iter LWP", ORANGE, 8, 4454), ("Adiabatic LWP", PURPLE, 4, 4511)],
       548, 783, 807)

layout = dict(width=W, height=H, margin=dict(l=0, r=0, t=0, b=0),
              paper_bgcolor="white", plot_bgcolor="white", barmode="overlay",
              showlegend=False, font=dict(family=FONT, color=DARK))
for n in range(1, 6):
    key = "" if n == 1 else str(n)
    dom_y = [1 - bottoms[n - 1] / H, 1 - tops[n - 1] / H]
    layout["xaxis" + key] = dict(
        domain=[x_left / W, x_right / W], anchor="y" + key, range=[6, 9], tick0=6, dtick=0.5,
        ticks="inside", ticklen=27, tickwidth=2, tickcolor=DARK, showline=True,
        linecolor=DARK, linewidth=2.5, mirror=False, showgrid=False, zeroline=False,
        tickfont=dict(family=FONT, size=38, color=DARK), ticklabelstandoff=16)
    t0, dtk = yticks[n - 1]
    layout["yaxis" + key] = dict(
        domain=dom_y, anchor="x" + key, range=yranges[n - 1], tick0=t0, dtick=dtk,
        ticks="inside", ticklen=27, tickwidth=2, tickcolor=AXBLUE, showline=True,
        linecolor=AXBLUE, linewidth=2.5, mirror=True, showgrid=False, zeroline=False,
        tickfont=dict(family=FONT, size=38, color=AXBLUE), ticklabelstandoff=21)
    annotations.append(dict(xref="paper", yref="paper", x=ylabel_x[n - 1] / W,
                            y=sum(dom_y) / 2, text=ylabels[n - 1], textangle=-90,
                            showarrow=False, xanchor="center", yanchor="middle",
                            font=dict(family=FONT, size=47, color=AXBLUE)))
    annotations.append(dict(xref="paper", yref="paper", x=(x_left + x_right) / 2 / W,
                            y=1 - (bottoms[n - 1] + 120) / H, text="UTC hours on 20241101",
                            showarrow=False, xanchor="center", yanchor="middle",
                            font=dict(family=FONT, size=47, color=DARK)))

layout["shapes"] = shapes
layout["annotations"] = annotations
fig.update_layout(**layout)

# the browser window can be shorter than the figure: shrink the whole page
# uniformly so every panel stays in view (scale is 1 when it fits)
fit_js = """
document.body.style.margin = '0';
document.body.style.overflow = 'hidden';
var gd = document.getElementById('{plot_id}');
var s = Math.min(1, window.innerWidth / %d, window.innerHeight / %d);
gd.style.transformOrigin = '0 0';
gd.style.transform = 'scale(' + s + ')';
""" % (W, H)
fig.write_html("out.html", config={"responsive": False, "displayModeBar": False},
               post_script=fit_js)
